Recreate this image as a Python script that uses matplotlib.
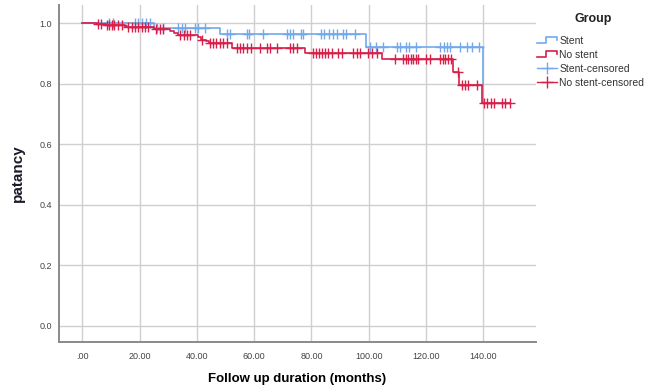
import matplotlib
matplotlib.use("Agg")
import matplotlib.pyplot as plt
import numpy as np
from matplotlib.lines import Line2D
from matplotlib.legend_handler import HandlerBase

plt.rcParams["font.family"] = ["Liberation Sans", "DejaVu Sans"]

# Kaplan-Meier step data
stent_times = [0, 25.1, 48.1, 99.0, 140.0]
stent_surv = [1.0, 0.983, 0.964, 0.920, 0.735]
stent_censored = [9.5, 10.9, 18.4, 19.6, 20.8, 22.2, 23.6, 26.0, 28.3, 33.5, 34.7,
                  35.9, 39.4, 40.5, 42.8, 50.4, 51.6, 57.4, 58.3, 63.2, 71.4, 72.5,
                  73.7, 76.3, 77.2, 83.3, 84.5, 86.0, 87.6, 88.8, 91.0, 92.1, 95.1,
                  100.5, 102.5, 104.9, 110.0, 111.0, 113.0, 114.0, 116.5, 125.0,
                  126.3, 127.2, 128.4, 132.0, 134.2, 136.0, 138.6]

nostent_times = [0, 5.3, 8.3, 15.0, 25.0, 30.6, 32.0, 33.5, 40.3, 41.6, 43.3, 44.2,
                 52.2, 77.8, 104.5, 129.5, 131.6, 139.7]
nostent_surv = [1.0, 0.997, 0.993, 0.987, 0.980, 0.974, 0.967, 0.960, 0.953, 0.946,
                0.940, 0.933, 0.917, 0.903, 0.880, 0.840, 0.796, 0.735]
nostent_censored = [5.6, 6.4, 8.5, 9.5, 10.5, 11.2, 12.5, 13.8, 16.0, 17.2, 18.4, 19.5,
                    20.8, 22.0, 23.0, 25.9, 27.0, 28.2, 34.2, 35.4, 36.6, 37.6, 41.7,
                    44.5, 45.7, 46.8, 48.0, 49.2, 50.4, 53.9, 55.0, 56.2, 57.4, 59.0,
                    62.0, 64.4, 65.6, 67.9, 72.5, 73.7, 75.0, 80.5, 81.5, 82.5, 83.6,
                    84.7, 85.9, 87.1, 89.4, 90.6, 94.6, 95.8, 97.0, 99.9, 101.0, 103.0,
                    109.2, 112.0, 113.0, 113.8, 114.8, 115.6, 116.5, 117.3, 120.0,
                    121.5, 124.9, 125.8, 126.7, 127.6, 128.6, 131.0, 132.5, 133.6,
                    134.8, 137.7, 140.3, 141.4, 142.6, 143.8, 146.5, 147.7, 149.2]

x_ticks = [0, 20, 40, 60, 80, 100, 120, 140]
x_labels = [".00", "20.00", "40.00", "60.00", "80.00", "100.00", "120.00", "140.00"]
y_ticks = [0.0, 0.2, 0.4, 0.6, 0.8, 1.0]

blue = "#72a9ec"
red = "#d81f4a"


def surv_at(times, surv, t):
    idx = np.searchsorted(times, t, side="right") - 1
    return np.array(surv)[idx]


fig = plt.figure(figsize=(6.49, 3.88), dpi=100)
ax = fig.add_axes([0.0905, 0.1186, 0.7355, 0.8684])

# stent curve
ax.step(stent_times, stent_surv, where="post", color=blue, lw=1.2, zorder=3)
ax.plot(stent_censored, surv_at(stent_times, stent_surv, stent_censored), "+",
        color=blue, ms=6.5, mew=1.0, zorder=3)

# no stent curve, extended to the last censored case
nt = nostent_times + [max(nostent_censored)]
ns = nostent_surv + [nostent_surv[-1]]
ax.step(nt, ns, where="post", color=red, lw=1.2, zorder=4)
ax.plot(nostent_censored, surv_at(nostent_times, nostent_surv, nostent_censored), "+",
        color=red, ms=6.5, mew=1.0, zorder=4)

ax.set_xlim(-8.2, 158.4)
ax.set_ylim(-0.054, 1.06)
ax.set_xticks(x_ticks)
ax.set_xticklabels(x_labels)
ax.set_yticks(y_ticks)
ax.set_yticklabels([f"{v:.1f}" for v in y_ticks])
ax.tick_params(length=0, labelsize=6.5, labelcolor="#444444", pad=5)
ax.tick_params(axis="x", pad=7)
ax.grid(True, color="#cfcfcf", lw=1.0)
ax.set_axisbelow(True)
for s in ["top", "right"]:
    ax.spines[s].set_visible(False)
for s in ["left", "bottom"]:
    ax.spines[s].set_color("#8a8a8a")
    ax.spines[s].set_linewidth(1.4)

ax.set_xlabel("Follow up duration (months)", fontsize=9.5, fontweight="bold", labelpad=9)
ax.set_ylabel("patancy", fontsize=11, fontweight="bold", color="#1a1a2a", labelpad=10)


class StepHandler(HandlerBase):
    def create_artists(self, legend, orig_handle, xdescent, ydescent, width, height,
                       fontsize, trans):
        x0 = -xdescent
        y0 = -ydescent
        xs = [x0, x0 + 0.45 * width, x0 + 0.45 * width, x0 + width, x0 + width]
        ys = [y0 + 0.15 * height, y0 + 0.15 * height, y0 + 0.85 * height,
              y0 + 0.85 * height, y0 + 0.45 * height]
        ln = Line2D(xs, ys, color=orig_handle.get_color(), lw=1.2, transform=trans)
        return [ln]


fig.text(593 / 649, 1 - 19 / 388, "Group", ha="center", va="center",
         fontsize=9, fontweight="bold", color="#222222")

h1 = Line2D([], [], color=blue)
h2 = Line2D([], [], color=red)
h3 = Line2D([], [], color=blue, lw=1.0, marker="+", ms=9, mew=1.0)
h4 = Line2D([], [], color=red, lw=1.0, marker="+", ms=9, mew=1.0)
leg = fig.legend([h1, h2, h3, h4], ["Stent", "No stent", "Stent-censored", "No stent-censored"],
                 loc="upper left", bbox_to_anchor=(0.8274, 0.908), frameon=False,
                 fontsize=7.5, handlelength=1.9, handletextpad=0.25,
                 labelspacing=0.38, borderpad=0, borderaxespad=0, numpoints=1,
                 handler_map={h1: StepHandler(), h2: StepHandler()})
for t in leg.get_texts():
    t.set_color("#333333")

fig.savefig("out.png", dpi=100)
